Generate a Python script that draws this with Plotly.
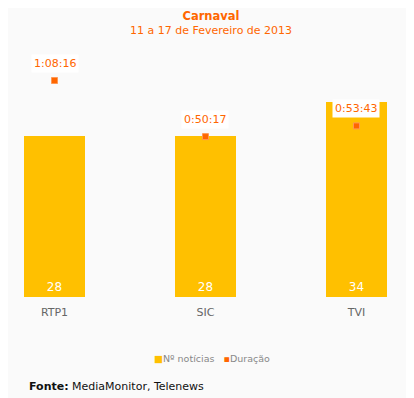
import plotly.graph_objects as go

categories = ["RTP1", "SIC", "TVI"]
news_counts = [28, 28, 34]
durations = ["1:08:16", "0:50:17", "0:53:43"]
legend_labels = ["Nº notícias", "Duração"]

def to_seconds(s):
    h, m, sec = (int(p) for p in s.split(":"))
    return h * 3600 + m * 60 + sec

duration_secs = [to_seconds(d) for d in durations]

BG = "#FAFAFA"
GOLD = "#FFC000"
ORANGE = "#FF6600"
FONT = "DejaVu Sans"

fig = go.Figure()
fig.add_trace(go.Bar(
    x=categories, y=news_counts, name=legend_labels[0],
    marker=dict(color=GOLD, line=dict(width=0)),
    width=0.404,
    text=[str(v) for v in news_counts],
    textposition="inside", insidetextanchor="start",
    textfont=dict(color="white", size=12, family=FONT),
    showlegend=False,
))
fig.add_trace(go.Scatter(
    x=categories, y=duration_secs, name=legend_labels[1], yaxis="y2",
    mode="markers",
    marker=dict(symbol="square", size=6, color=ORANGE, line=dict(width=1, color="#FF9955")),
    showlegend=False,
))

for c, s, d in zip(categories, duration_secs, durations):
    fig.add_annotation(
        x=c, y=s, xref="x", yref="y2", text=d, showarrow=False,
        yshift=17, bgcolor="white", borderpad=2,
        font=dict(color=ORANGE, size=11, family=FONT),
    )

# the page adds an 8px body margin, so the figure is sized to fit the window
fig.update_layout(
    width=406, height=390,
    paper_bgcolor=BG, plot_bgcolor=BG,
    margin=dict(l=0, r=0, t=32, b=101),
    bargap=0,
    title=dict(
        text="<b>Carnaval</b>",
        x=0.5, xanchor="center", xref="paper", y=1 - 8 / 390, yanchor="middle",
        font=dict(color=ORANGE, size=11.5, family=FONT),
    ),
    xaxis=dict(
        type="category", range=[-0.308, 2.381],
        showgrid=False, showline=False, zeroline=False,
        ticks="outside", ticklen=5, tickcolor=BG,
        tickfont=dict(color="#666666", size=11, family=FONT),
        fixedrange=True,
    ),
    yaxis=dict(range=[0, 44.7], visible=False, fixedrange=True),
    yaxis2=dict(range=[-67, 4875], overlaying="y", visible=False, fixedrange=True),
    showlegend=False,
    font=dict(family=FONT),
)

fig.add_annotation(
    x=0.5, y=1, xref="paper", yref="paper", xanchor="center", yanchor="middle",
    yshift=10, text="11 a 17 de Fevereiro de 2013", showarrow=False,
    font=dict(color=ORANGE, size=11, family=FONT),
)

fig.add_annotation(
    x=0.5, y=0, xref="paper", yref="paper", xanchor="center", yanchor="middle",
    xshift=1, yshift=-61,
    text=(f"<span style='color:{GOLD}'>■</span>{legend_labels[0]}"
          f"&nbsp;&nbsp;&nbsp;<span style='color:{ORANGE}'>▪</span>{legend_labels[1]}"),
    showarrow=False,
    font=dict(color="#888888", size=9.5, family=FONT),
)

fig.add_annotation(
    x=0, y=0, xref="paper", yref="paper", xanchor="left", yanchor="middle",
    xshift=19, yshift=-89,
    text="<b>Fonte:</b> MediaMonitor, Telenews", showarrow=False,
    font=dict(color="#111111", size=11, family=FONT),
)

fig.write_html("out.html")
